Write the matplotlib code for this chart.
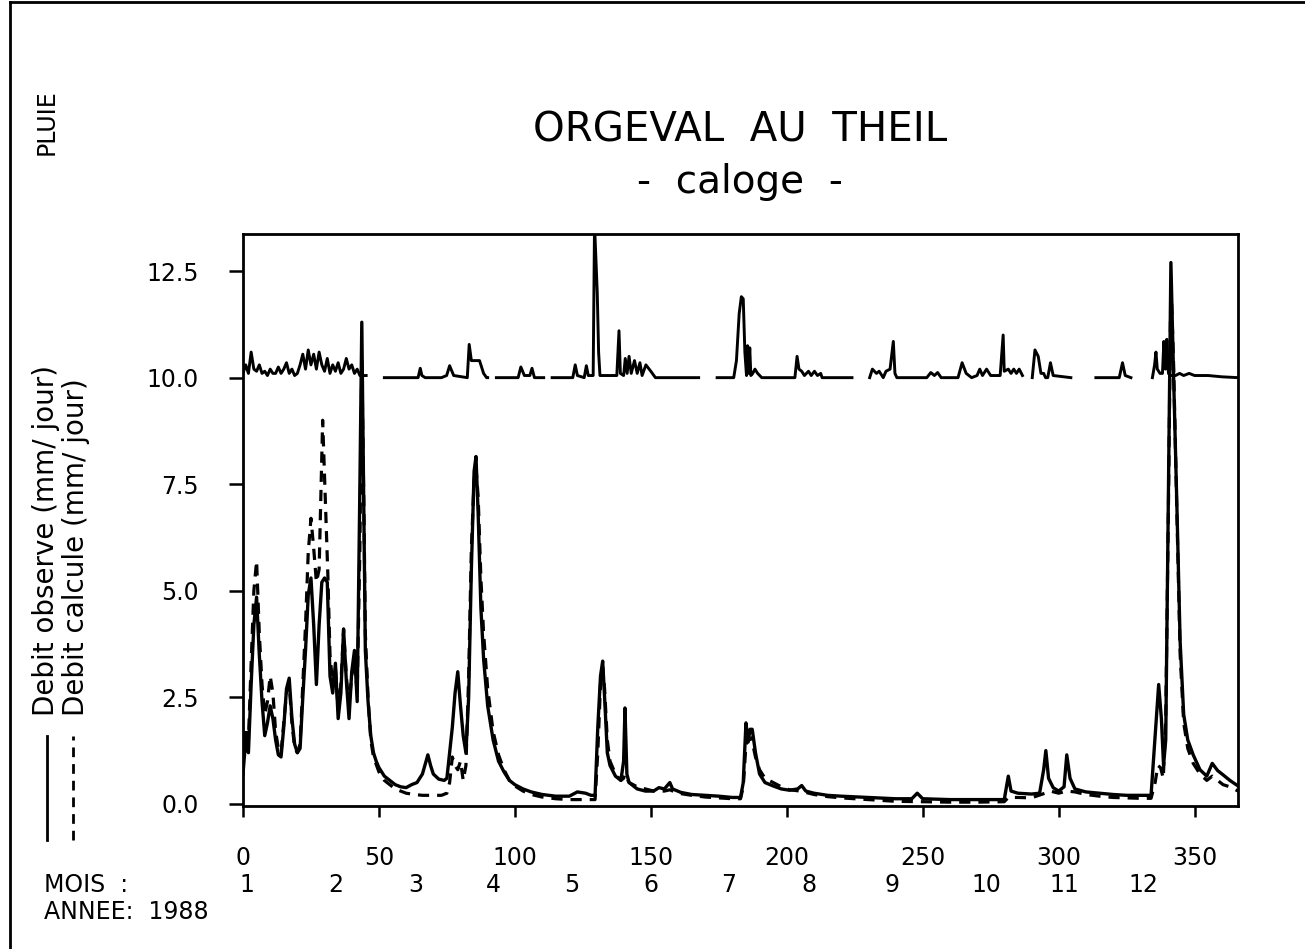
import numpy as np
import matplotlib
matplotlib.use("Agg")
import matplotlib.pyplot as plt
from matplotlib.lines import Line2D
from matplotlib.transforms import blended_transform_factory

# ---- data: (day of year 1988, mm/jour) ----
obs = [(0, 0.7), (1, 1.5), (2, 1.2), (3, 2.8), (4, 4.2), (5, 4.85), (6, 3.5),
       (7, 2.4), (8, 1.6), (9, 1.9), (10, 2.3), (11, 2.0), (12, 1.5), (13, 1.15),
       (14, 1.1), (15, 1.8), (16, 2.7), (17, 2.95), (18, 2.0), (19, 1.4),
       (20, 1.2), (21, 1.3), (22, 2.5), (23, 3.6), (24, 4.9), (25, 5.3),
       (26, 4.2), (27, 2.8), (28, 4.2), (29, 5.2), (30, 5.3), (31, 5.2),
       (32, 3.0), (33, 2.6), (34, 3.3), (35, 2.0), (36, 2.6), (37, 4.1),
       (38, 2.9), (39, 2.0), (40, 3.1), (41, 3.6), (42, 2.4), (43, 7.5),
       (43.7, 11.3), (44.5, 6.5), (45, 3.6), (46, 2.4), (47, 1.6), (48, 1.2),
       (49, 1.0), (50, 0.85), (52, 0.65), (54, 0.55), (56, 0.45), (58, 0.4),
       (60, 0.38), (62, 0.45), (64, 0.5), (66, 0.7), (68, 1.15), (69, 0.9),
       (70, 0.7), (72, 0.58), (74, 0.55), (75, 0.6), (76, 1.2), (77, 1.8),
       (78, 2.6), (79, 3.1), (80, 2.3), (81, 1.6), (82, 1.2), (83, 2.5),
       (84, 5.5), (85, 7.8), (85.7, 8.15), (86.5, 6.8), (87.5, 4.6), (88.5, 3.4),
       (90, 2.3), (92, 1.5), (94, 1.0), (96, 0.75), (98, 0.55), (100, 0.45),
       (103, 0.35), (106, 0.28), (110, 0.22), (115, 0.18), (120, 0.18),
       (123, 0.28), (126, 0.25), (128, 0.2), (129.5, 0.2), (130.5, 1.8),
       (131.5, 3.0), (132.3, 3.35), (133, 2.5), (134, 1.2), (135, 0.9),
       (137, 0.65), (139, 0.55), (140, 1.0), (140.5, 2.25), (141.2, 0.7),
       (142, 0.5), (145, 0.35), (148, 0.3), (151, 0.3), (153, 0.38), (155, 0.35),
       (157, 0.5), (158, 0.35), (161, 0.27), (165, 0.22), (170, 0.2),
       (175, 0.18), (180, 0.15), (183, 0.15), (184, 0.5), (185, 1.9),
       (185.8, 1.45), (186.5, 1.75), (187.3, 1.75), (188.5, 1.2), (190, 0.7),
       (192, 0.5), (195, 0.42), (198, 0.35), (201, 0.32), (204, 0.35),
       (205.5, 0.43), (207, 0.3), (210, 0.25), (215, 0.2), (220, 0.18),
       (230, 0.15), (240, 0.12), (246, 0.12), (248, 0.25), (250, 0.12),
       (260, 0.1), (270, 0.1), (280, 0.1), (281.5, 0.65), (282.5, 0.3),
       (285, 0.25), (290, 0.23), (293, 0.25), (294.5, 0.8), (295.3, 1.25),
       (296.3, 0.6), (298, 0.38), (300, 0.3), (302, 0.4), (303, 1.15),
       (304.2, 0.6), (306, 0.35), (310, 0.28), (315, 0.25), (320, 0.22),
       (325, 0.2), (330, 0.2), (334, 0.2), (335.5, 1.6), (336.8, 2.8),
       (337.8, 2.0), (338.6, 0.9), (339.4, 1.5), (340.4, 7.5), (341.3, 12.7),
       (342.3, 10.0), (343.5, 7.0), (344.7, 3.8), (346, 2.1), (347.5, 1.5),
       (349.5, 1.15), (352, 0.8), (354.5, 0.65), (356.5, 0.95), (358.5, 0.78),
       (360.5, 0.68), (363, 0.55), (366, 0.42)]

calc = [(0, 1.0), (1, 1.8), (2, 1.5), (3, 3.3), (4, 5.0), (5, 5.7), (6, 4.0),
        (7, 2.8), (8, 2.1), (9, 2.4), (10, 3.0), (11, 2.6), (12, 1.7), (13, 1.3),
        (14, 1.2), (15, 1.9), (16, 2.6), (17, 2.8), (18, 1.9), (19, 1.3),
        (20, 1.2), (21, 1.4), (22, 2.8), (23, 4.2), (24, 5.9), (25, 6.7),
        (26, 6.0), (27, 5.2), (28, 5.5), (29.3, 9.0), (30.2, 7.3), (31.2, 5.4),
        (32, 3.5), (33, 2.8), (34, 3.2), (35, 2.2), (36, 2.8), (37, 4.1),
        (38, 3.0), (39, 2.3), (40, 3.0), (41, 3.4), (42, 2.6), (43, 6.0),
        (43.7, 10.4), (44.5, 6.8), (45, 4.0), (46, 2.5), (47, 1.5), (48, 1.1),
        (50, 0.75), (52, 0.55), (54, 0.45), (56, 0.35), (58, 0.3), (60, 0.25),
        (63, 0.22), (66, 0.2), (70, 0.2), (73, 0.2), (75, 0.25), (76, 0.5),
        (77, 1.1), (78, 0.9), (79, 0.8), (80, 1.0), (81, 0.55), (82, 0.9),
        (83, 3.0), (84, 6.0), (85, 7.6), (85.7, 7.9), (86.5, 7.2), (87.5, 5.3),
        (88.5, 4.0), (90, 2.7), (92, 1.7), (94, 1.15), (96, 0.8), (98, 0.55),
        (100, 0.42), (103, 0.3), (106, 0.22), (110, 0.16), (115, 0.12),
        (120, 0.1), (125, 0.1), (129.5, 0.1), (130.5, 1.2), (131.5, 2.8),
        (132.3, 3.2), (133, 2.7), (134, 1.5), (135, 1.0), (137, 0.7), (139, 0.55),
        (140, 0.6), (140.5, 0.7), (141.2, 0.6), (142, 0.5), (145, 0.4),
        (148, 0.35), (151, 0.3), (155, 0.3), (157, 0.33), (160, 0.25),
        (165, 0.2), (170, 0.16), (175, 0.14), (180, 0.12), (183, 0.12),
        (184, 0.4), (185, 1.4), (186, 1.5), (187, 1.55), (188.5, 1.1), (190, 0.8),
        (192, 0.6), (195, 0.5), (198, 0.4), (201, 0.33), (205, 0.3), (210, 0.22),
        (215, 0.17), (220, 0.14), (230, 0.1), (240, 0.06), (250, 0.05),
        (260, 0.04), (270, 0.04), (280, 0.05), (281.5, 0.15), (285, 0.15),
        (290, 0.14), (295, 0.25), (297, 0.3), (300, 0.25), (303, 0.3),
        (306, 0.28), (310, 0.22), (315, 0.18), (320, 0.15), (330, 0.13),
        (334, 0.13), (335.5, 0.5), (336.5, 0.9), (337.5, 0.85), (338.5, 0.6),
        (339.4, 2.0), (340.4, 7.0), (341.3, 12.3), (342.3, 10.3), (343.5, 6.8),
        (344.7, 3.5), (346, 1.9), (347.5, 1.3), (349.5, 0.95), (352, 0.7),
        (354.5, 0.55), (356.5, 0.65), (358.5, 0.55), (360.5, 0.45), (363, 0.4),
        (366, 0.3)]

# rainfall trace drawn near the top (offset around 10); nan marks a gap
nan = np.nan
rain = [(0, 10.1), (1, 10.3), (2, 10.1), (3, 10.6), (4, 10.2), (5, 10.15),
        (6, 10.3), (7, 10.1), (8, 10.15), (9, 10.05), (10, 10.2), (11, 10.1),
        (12, 10.1), (13, 10.25), (14, 10.1), (15, 10.2), (16, 10.35), (17, 10.1),
        (18, 10.2), (19, 10.05), (20, 10.1), (21, 10.3), (22, 10.55), (23, 10.2),
        (24, 10.65), (25, 10.3), (26, 10.55), (27, 10.2), (28, 10.6), (29, 10.3),
        (30, 10.15), (31, 10.45), (32, 10.1), (33, 10.3), (34, 10.15),
        (35, 10.35), (36, 10.1), (37, 10.2), (38, 10.45), (39, 10.2), (40, 10.3),
        (41, 10.1), (42, 10.2), (43, 10.05), (45.3, 10.05), (48, nan),
        (52, 10.0), (64.4, 10.0), (65.2, 10.22), (65.8, 10.05), (67, 10.0),
        (73, 10.0), (74.9, 10.05), (76, 10.28), (77.5, 10.05), (82.5, 10.0),
        (83.2, 10.78), (84, 10.4), (87, 10.4), (88.5, 10.1), (89.6, 10.0),
        (90, 10.0), (91.5, nan),
        (93.2, 10.0), (101.2, 10.0), (102.2, 10.25), (103.5, 10.05),
        (105.5, 10.05), (106.3, 10.22), (107.2, 10.0), (110.6, 10.0), (112, nan),
        (113.7, 10.0), (121.3, 10.0), (122.2, 10.3), (123, 10.05), (125.5, 10.0),
        (126.3, 10.28), (127, 10.05), (128.8, 10.05), (129.3, 13.6),
        (130.3, 12.0), (130.8, 10.6), (131.3, 10.05), (137.5, 10.05),
        (138.3, 11.1), (138.8, 10.1), (140, 10.05), (140.6, 10.45), (141.3, 10.1),
        (142, 10.5), (142.8, 10.1), (144, 10.4), (145, 10.1), (146, 10.35),
        (146.8, 10.05), (148.2, 10.3), (150, 10.15), (151.7, 10.0), (167.6, 10.0),
        (171, nan),
        (174.4, 10.0), (180.5, 10.0), (181.5, 10.4), (182.5, 11.5), (183.3, 11.9),
        (184, 11.85), (184.6, 10.6), (185.2, 10.05), (185.6, 10.75), (186, 10.1),
        (186.4, 10.7), (186.8, 10.05), (187.5, 10.1), (188.3, 10.2),
        (189.3, 10.1), (190.8, 10.0), (203, 10.0), (203.8, 10.5), (204.5, 10.2),
        (205.5, 10.15), (206.5, 10.05), (208, 10.15), (209, 10.05),
        (210.2, 10.15), (211.3, 10.05), (212.5, 10.1), (213, 10.0), (224, 10.0),
        (227, nan),
        (230.5, 10.0), (231.5, 10.2), (233, 10.1), (234, 10.15), (235.5, 10.0),
        (236.5, 10.15), (238, 10.2), (239.2, 10.85), (239.8, 10.1), (240.5, 10.0),
        (250, 10.0), (251.5, 10.0), (253, 10.12), (254.3, 10.05), (255.5, 10.12),
        (256.8, 10.0), (263, 10.0), (264.5, 10.35), (266, 10.1), (268, 10.0),
        (270, 10.05), (271, 10.2), (272, 10.05), (273.5, 10.2), (275, 10.05),
        (278.5, 10.05), (279.6, 11.0), (280, 10.15), (281.5, 10.2), (282.5, 10.1),
        (283.5, 10.2), (284.5, 10.1), (285.5, 10.2), (286.7, 10.05), (288.5, nan),
        (290.3, 10.0), (291.3, 10.65), (292.5, 10.5), (293.5, 10.1),
        (294.5, 10.1), (295.2, 10.0), (296, 10.0), (297, 10.35), (298, 10.05),
        (304.5, 10.0), (309, nan),
        (313.7, 10.0), (322.3, 10.0), (323.5, 10.35), (324.5, 10.05),
        (326.6, 10.0), (330, nan),
        (334.5, 10.0), (335.3, 10.3), (335.8, 10.6), (336.3, 10.2), (337.3, 10.1),
        (338.2, 10.1), (338.7, 10.85), (339.3, 10.2), (339.8, 10.9), (340.4, 10.1),
        (341, 10.05), (343, 10.05), (344.5, 10.1), (346, 10.05), (348, 10.1),
        (350, 10.05), (355, 10.05), (360, 10.02), (366, 10.0)]

x_ticks = [0, 50, 100, 150, 200, 250, 300, 350]
y_ticks = [0.0, 2.5, 5.0, 7.5, 10.0, 12.5]
mois = ["1", "2", "3", "4", "5", "6", "7", "8", "9", "10", "11", "12"]
mois_pos = [1.5, 34, 63.5, 92, 121, 150, 178.5, 208, 238.8, 273.4, 302.1, 331.2]

obs_day, obs_val = zip(*obs)
calc_day, calc_val = zip(*calc)
rain_day, rain_val = zip(*rain)

fig = plt.figure(figsize=(13.05, 9.49), dpi=100)
ax = fig.add_axes([0.1862, 0.1507, 0.7625, 0.6027])

ax.plot(obs_day, obs_val, color="black", lw=2.4, solid_joinstyle="round")
ax.plot(calc_day, calc_val, color="black", lw=2.3, dashes=(3.5, 2.5))
ax.plot(rain_day, rain_val, color="black", lw=2.1)

ax.set_xlim(0, 366)
ax.set_ylim(-0.05, 13.37)
ax.set_xticks(x_ticks)
ax.set_yticks(y_ticks)
ax.set_xticklabels([str(t) for t in x_ticks])
ax.set_yticklabels(["%.1f" % t for t in y_ticks])
ax.tick_params(axis="x", direction="out", length=8, width=1.8, pad=21, labelsize=17)
ax.tick_params(axis="y", direction="out", length=10, width=1.8, pad=22, labelsize=17)
for s in ax.spines.values():
    s.set_linewidth(2.0)

# titles
fig.text(0.567, 0.863, "ORGEVAL  AU  THEIL", ha="center", va="center", fontsize=29)
fig.text(0.567, 0.808, "-  caloge  -", ha="center", va="center", fontsize=28)
fig.text(0.036, 0.871, "PLUIE", rotation=90, ha="center", va="center", fontsize=17)

# legend written along the y axis
fig.add_artist(Line2D([0.036, 0.036], [0.115, 0.224], color="black", lw=2.0))
fig.add_artist(Line2D([0.056, 0.056], [0.115, 0.224], color="black", lw=2.0,
                      dashes=(3.5, 2.5)))
fig.text(0.035, 0.245, "Debit observe (mm/ jour)", rotation=90, ha="center",
         va="bottom", fontsize=20)
fig.text(0.058, 0.245, "Debit calcule (mm/ jour)", rotation=90, ha="center",
         va="bottom", fontsize=20)

# month row and year
tr = blended_transform_factory(ax.transData, fig.transFigure)
for m, d in zip(mois, mois_pos):
    ax.text(d, 0.0674, m, transform=tr, ha="center", va="center", fontsize=17,
            clip_on=False)
fig.text(0.034, 0.0674, "MOIS  :", ha="left", va="center", fontsize=17)
fig.text(0.034, 0.039, "ANNEE:  1988", ha="left", va="center", fontsize=17)

# page frame (left and top edges)
fig.add_artist(Line2D([0.0077, 0.0077], [0, 0.998], color="black", lw=2))
fig.add_artist(Line2D([0.0077, 1.0], [0.998, 0.998], color="black", lw=2))

fig.savefig("out.png", dpi=100)
